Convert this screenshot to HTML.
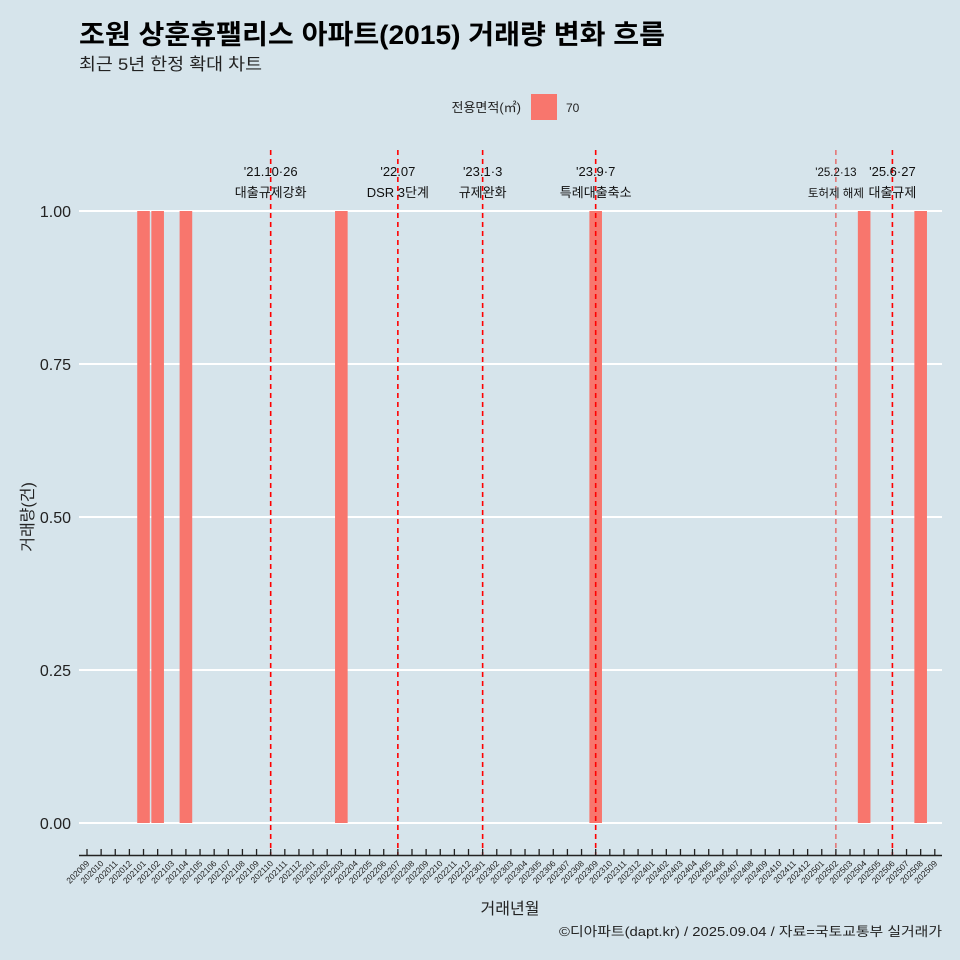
<!DOCTYPE html>
<html><head><meta charset="utf-8">
<style>
body{margin:0;background:#d6e4eb;}
svg{display:block;font-family:"Liberation Sans","Noto Sans CJK KR",sans-serif;}
</style></head>
<body>
<svg id="c" width="960" height="960" viewBox="0 0 960 960">
<rect width="960" height="960" fill="#d6e4eb"/>
<text x="79" y="44" font-size="27" font-weight="bold" fill="#000" textLength="586" lengthAdjust="spacingAndGlyphs">조원 상훈휴팰리스 아파트(2015) 거래량 변화 흐름</text>
<text x="79" y="70" font-size="17" fill="#222" textLength="183" lengthAdjust="spacingAndGlyphs">최근 5년 한정 확대 차트</text>
<g>
<text x="521" y="112" font-size="13" text-anchor="end" fill="#222">전용면적(㎡)</text>
<rect x="531" y="94" width="26" height="26" fill="#f8766d"/>
<text x="566" y="112" font-size="12" fill="#222">70</text>
</g>
<g id="grid"></g><g id="bars"></g><g id="vlines"></g><g id="xaxis"></g>
<text x="510" y="914" font-size="16" text-anchor="middle" fill="#222">거래년월</text>
<text transform="translate(33,517) rotate(-90)" font-size="16" text-anchor="middle" fill="#222">거래량(건)</text>
<text x="559" y="936" font-size="13" fill="#222" textLength="383" lengthAdjust="spacingAndGlyphs">©디아파트(dapt.kr) / 2025.09.04 / 자료=국토교통부 실거래가</text>
</svg>
<script>
const months=[];for(let y=2020,m=9;!(y===2025&&m===10);){months.push(''+y+(m<10?'0':'')+m);m++;if(m>12){m=1;y++;}}
const barMonths=['202101','202102','202104','202203','202309','202504','202508'];
const barValues=[1,1,1,1,1,1,1];
const yTicks=[0,0.25,0.5,0.75,1];
const yTickLabels=['0.00','0.25','0.50','0.75','1.00'];
const eventMonths=['202110','202207','202301','202309','202502','202506'];
const eventDates=["'21.10·26","'22.07","'23.1·3","'23.9·7","'25.2·13","'25.6·27"];
const eventLabels=['대출규제강화','DSR 3단계','규제완화','특례대출축소','토허제 해제','대출규제'];
const NS='http://www.w3.org/2000/svg';
const x=i=>87+i*14.13;
const y=v=>823-v*612;
function mk(t,a,p){const e=document.createElementNS(NS,t);for(const k in a)e.setAttribute(k,a[k]);p.appendChild(e);return e;}
const grid=document.getElementById('grid');
yTicks.forEach((v,i)=>{
 const l=mk('line',{x1:79,x2:942,y1:y(v),y2:y(v),stroke:'#fff','stroke-width':2},grid);
 
 
 const t=mk('text',{x:71,y:y(v)+6,'font-size':16,'text-anchor':'end',fill:'#222'},grid);
 t.textContent=yTickLabels[i];
 
 
});
const bars=document.getElementById('bars');
barMonths.forEach((m,i)=>{
 const cx=x(months.indexOf(m));
 const r=mk('rect',{x:cx-6.3,width:12.6,y:y(barValues[i]),height:y(0)-y(barValues[i]),fill:'#f8766d'},bars);
 
 
});
const vl=document.getElementById('vlines');
eventMonths.forEach((m,i)=>{
 const cx=x(months.indexOf(m));
 const l=mk('line',{x1:cx,x2:cx,y1:150,y2:856,stroke:i===4?'#e8524f':'#f00','stroke-width':i===4?1.2:1.6,'stroke-dasharray':'5,4'},vl);
 
 
 const fs=i===4?11.5:13;
 const t1=mk('text',{x:cx,y:176,'font-size':fs,'text-anchor':'middle',fill:'#111'},vl);
 t1.textContent=eventDates[i];
 
 
 const t2=mk('text',{x:cx,y:197,'font-size':fs,'text-anchor':'middle',fill:'#111'},vl);
 t2.textContent=eventLabels[i];
 
 
});
const xa=document.getElementById('xaxis');
const al=mk('line',{x1:79,x2:942,y1:855.5,y2:855.5,stroke:'#222','stroke-width':1.5},xa);


months.forEach((m,i)=>{
 const cx=x(i);
 const tk=mk('line',{x1:cx,x2:cx,y1:849,y2:856,stroke:'#222','stroke-width':1.3},xa);
 
 
 const t=mk('text',{x:cx+3,y:864,'font-size':8.5,'text-anchor':'end',fill:'#222',transform:`rotate(-45 ${cx+3} 864)`},xa);
 t.textContent=m;
 
 
});
</script>
</body></html>
